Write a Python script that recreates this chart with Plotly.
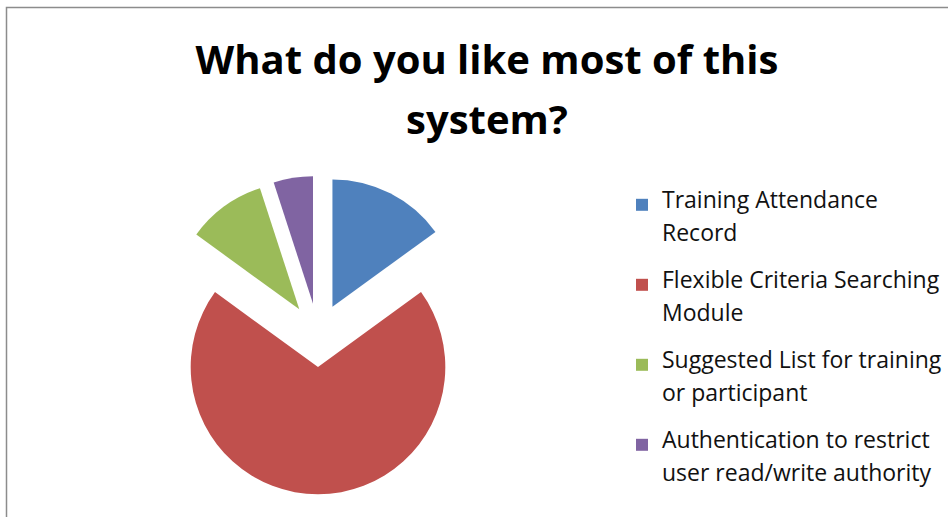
import plotly.graph_objects as go

# Survey answers (each entry split over two legend lines) and their shares
label_lines = [
    ("Training Attendance", "Record"),
    ("Flexible Criteria Searching", "Module"),
    ("Suggested List for training", "or participant"),
    ("Authentication to restrict", "user read/write authority"),
]
values = [15, 70, 10, 5]
colors = ["#4F81BD", "#C0504D", "#9BBB59", "#8064A2"]
title_lines = ["What do you like most of this", "system?"]

W, H = 948, 523

# Legend text: a small base font sets an 11px line step, so the two visible
# lines sit three steps apart and each entry is padded to a fixed height.
LEG_TXT = 23
LEG_STEP = 11
leg_base = LEG_STEP / 1.3


def legend_label(first, second):
    span = '<span style="font-size:%dpx">%s</span>'
    return "<br>".join(
        [span % (LEG_TXT, first), "", "", span % (LEG_TXT, second), "", "", ""]
    )


labels = [legend_label(a, b) for a, b in label_lines]

# Title: base size sets a 60px line step, glyphs drawn at 40px
TITLE_TXT = 40
title_base = 60 / 1.3
title_text = "<br>".join(
    '<span style="font-size:%dpx"><b>%s</b></span>' % (TITLE_TXT, t) for t in title_lines
)

fig = go.Figure(
    go.Pie(
        labels=labels,
        values=values,
        sort=False,
        direction="clockwise",
        rotation=0,
        pull=[0.25, 0.25, 0.25, 0.25],
        marker=dict(colors=colors, line=dict(width=0)),
        textinfo="none",
        hoverinfo="percent",
        domain=dict(x=[157 / W, 479 / W], y=[1 - 500 / H, 1 - 178 / H]),
    )
)

fig.update_layout(
    width=W,
    height=H,
    margin=dict(l=0, r=0, t=0, b=0),
    paper_bgcolor="white",
    plot_bgcolor="white",
    title=dict(
        text=title_text,
        x=487 / W,
        xanchor="center",
        y=1 - 74 / H,
        yanchor="middle",
        font=dict(family="Open Sans", size=title_base, color="black"),
    ),
    legend=dict(
        # an empty title row leaves headroom above the first entry
        title=dict(text=" ", font=dict(size=16)),
        x=622 / W,
        xanchor="left",
        y=1 - 174 / H,
        yanchor="top",
        valign="top",
        font=dict(family="Open Sans", size=leg_base, color="#111111"),
        tracegroupgap=0,
        itemwidth=30,
    ),
    shapes=[
        dict(
            type="path",
            xref="paper",
            yref="paper",
            path=f"M {6.5 / W},0 L {6.5 / W},{1 - 7.5 / H} L 1,{1 - 7.5 / H}",
            line=dict(color="#8c8c8c", width=1.5),
        )
    ],
)

fig.write_html("out.html")
